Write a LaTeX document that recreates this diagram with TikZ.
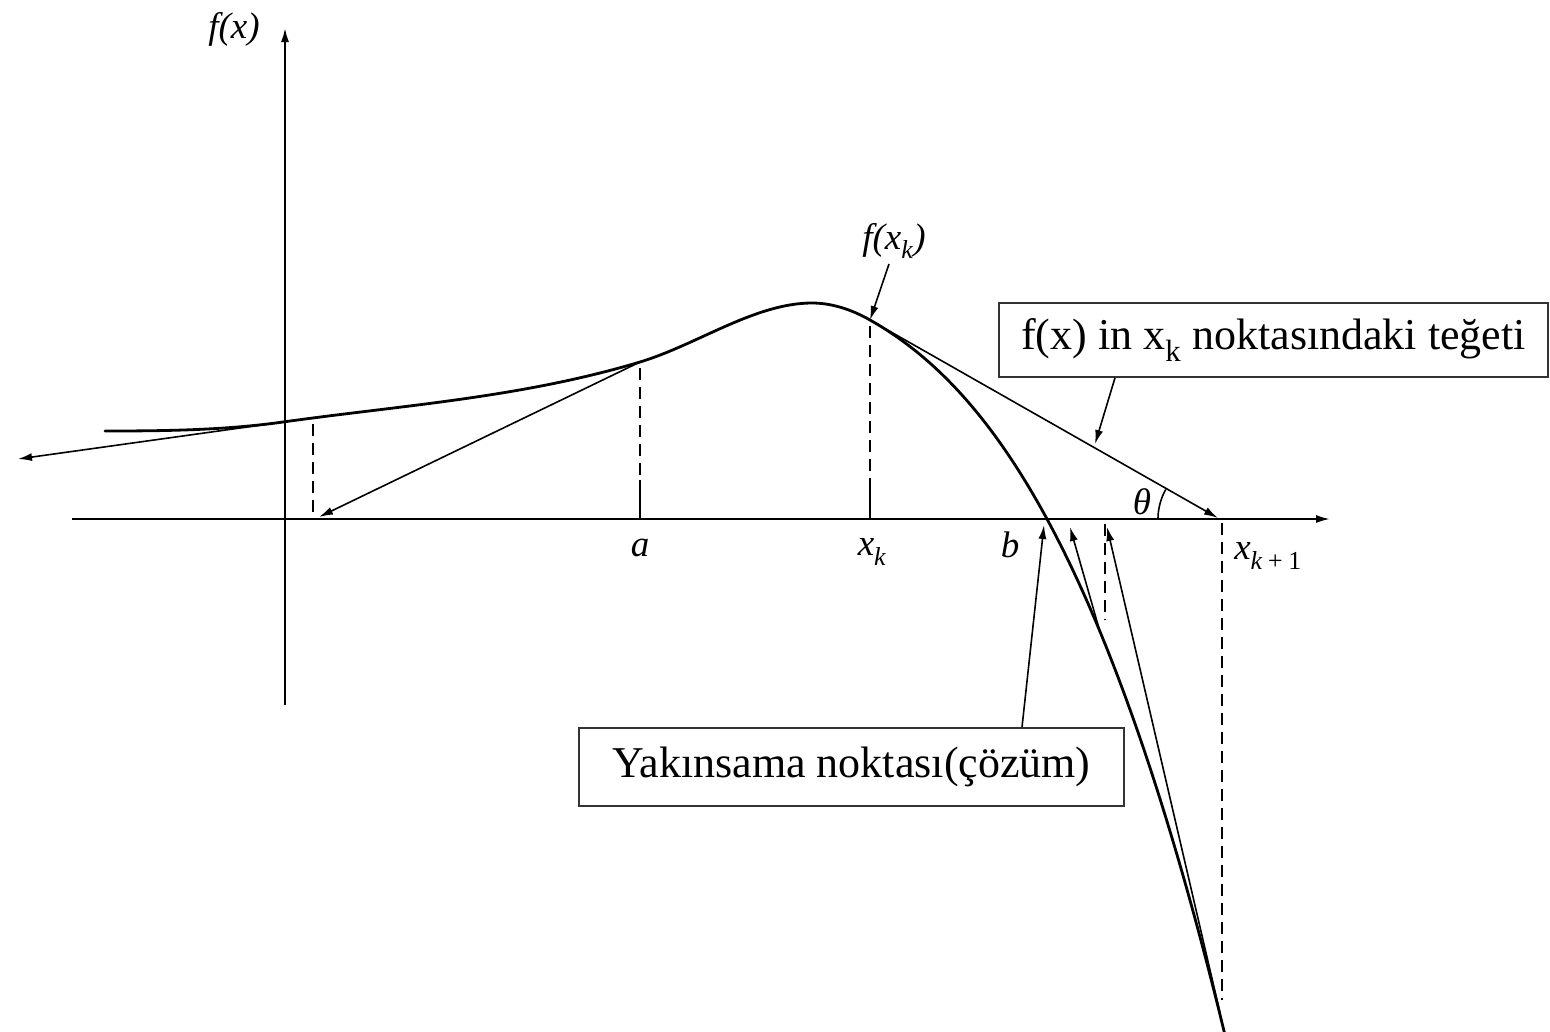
\documentclass[tikz,border=0pt]{standalone}
\usepackage{fontspec}
\setmainfont{Liberation Serif}
\usetikzlibrary{arrows.meta}
\begin{document}
\begin{tikzpicture}[x=1pt,y=-1pt,
  >={Latex[length=14pt,width=8pt]},
  curve/.style={line width=2.8pt, line join=round, line cap=round},
  axis/.style={line width=2pt},
  thinline/.style={line width=1.6pt},
  dashline/.style={line width=2pt, dash pattern=on 12pt off 7pt},
  mlabel/.style={font=\fontsize{37}{44}\selectfont\itshape, inner sep=0pt},
  box/.style={draw=black!80, line width=1.6pt, fill=white, inner sep=0pt,
              font=\fontsize{44}{52}\selectfont}
]
\useasboundingbox (0,0) rectangle (1550,1031);

% key coordinates
\coordinate (Y0) at (285,705);
\coordinate (Ytop) at (285,28);
\coordinate (X0) at (72,519);
\coordinate (Xend) at (1330,519);
\coordinate (C0) at (105,431);
\coordinate (P0) at (283,422);
\coordinate (A) at (640,362);
\coordinate (PK) at (812,303);
\coordinate (XK) at (870,320);
\coordinate (B) at (1047,519);
\coordinate (Q) at (1100,632);
\coordinate (R) at (1220,1013);
\coordinate (Lend) at (18,459);
\coordinate (Aend) at (319,517);
\coordinate (Kend) at (1218,518);
\coordinate (Bt) at (1044,525);
\coordinate (Qend) at (1070,527);
\coordinate (Rend) at (1107,527);
\coordinate (T1) at (1095,444);
\coordinate (c1) at (1022,0);
\coordinate (c2) at (1115,0);

% axes
\draw[axis,->] (Y0) -- (Ytop);
\draw[axis,->] (X0) -- (Xend);

% curve f(x)
\draw[curve] (C0) .. controls (164,431) and (224,430.3) .. (P0)
  .. controls (402,405.3) and (521,397.7) .. (A)
  .. controls (697,344.8) and (755,303) .. (PK)
  .. controls (831,303) and (851,309.1) .. (XK)
  -- plot[domain=0:3.56, samples=90] ({870+100*\x}, {320+56.6*\x+22.34*\x*\x+5.2*\x*\x*\x});

% dashed verticals
\draw[dashline] (313,424) -- (313,519);
\draw[dashline] (640,368) -- (640,480);
\draw[axis] (640,480) -- (640,519);
\draw[dashline] (870,326) -- (870,485);
\draw[axis] (870,485) -- (870,519);
\draw[dashline] (1222,523) -- (1222,1000);
\draw[dashline] (1105,524) -- (1105,620);

% tangents / secants
\draw[thinline,->] (P0) -- (Lend);
\draw[thinline,->] (A) -- (Aend);
\draw[thinline,->] (XK) -- (Kend);
\draw[thinline,->] (Q) -- (Qend);
\draw[thinline,->] (R) -- (Rend);

% angle theta
\draw[thinline] plot[domain=0:29.5, samples=20] ({1218-60*cos(\x)}, {519-60*sin(\x)});

% labels
\node[mlabel] (lfx) at (234,29) {f(x)};
\node[mlabel] (fxk) at (894,241) {f(x\textsubscript{k})};
\node[mlabel] (la) at (640,548) {a};
\node[mlabel] (lxk) at (872,552) {x\textsubscript{k}};
\node[mlabel] (lb) at (1010,545) {b};
\node[mlabel] (lxk1) at (1268,556) {x\textsubscript{k\,+\,\upshape 1}};
\node[mlabel] (lth) at (1142,502) {θ};

\draw[thinline,->] (889,264) -- (XK);

% boxes
\node[box, minimum width=549pt, minimum height=74pt] (box1) at (1273.5,340) {f(x) in x\textsubscript{k} noktasındaki teğeti};
\node[box, minimum width=545pt, minimum height=78pt] (box2) at (851.5,767) {Yakınsama noktası(çözüm)};

\draw[thinline,->] (box1.south -| c2) -- (T1);
\draw[thinline,->] (box2.north -| c1) -- (Bt);

\end{tikzpicture}
\end{document}
